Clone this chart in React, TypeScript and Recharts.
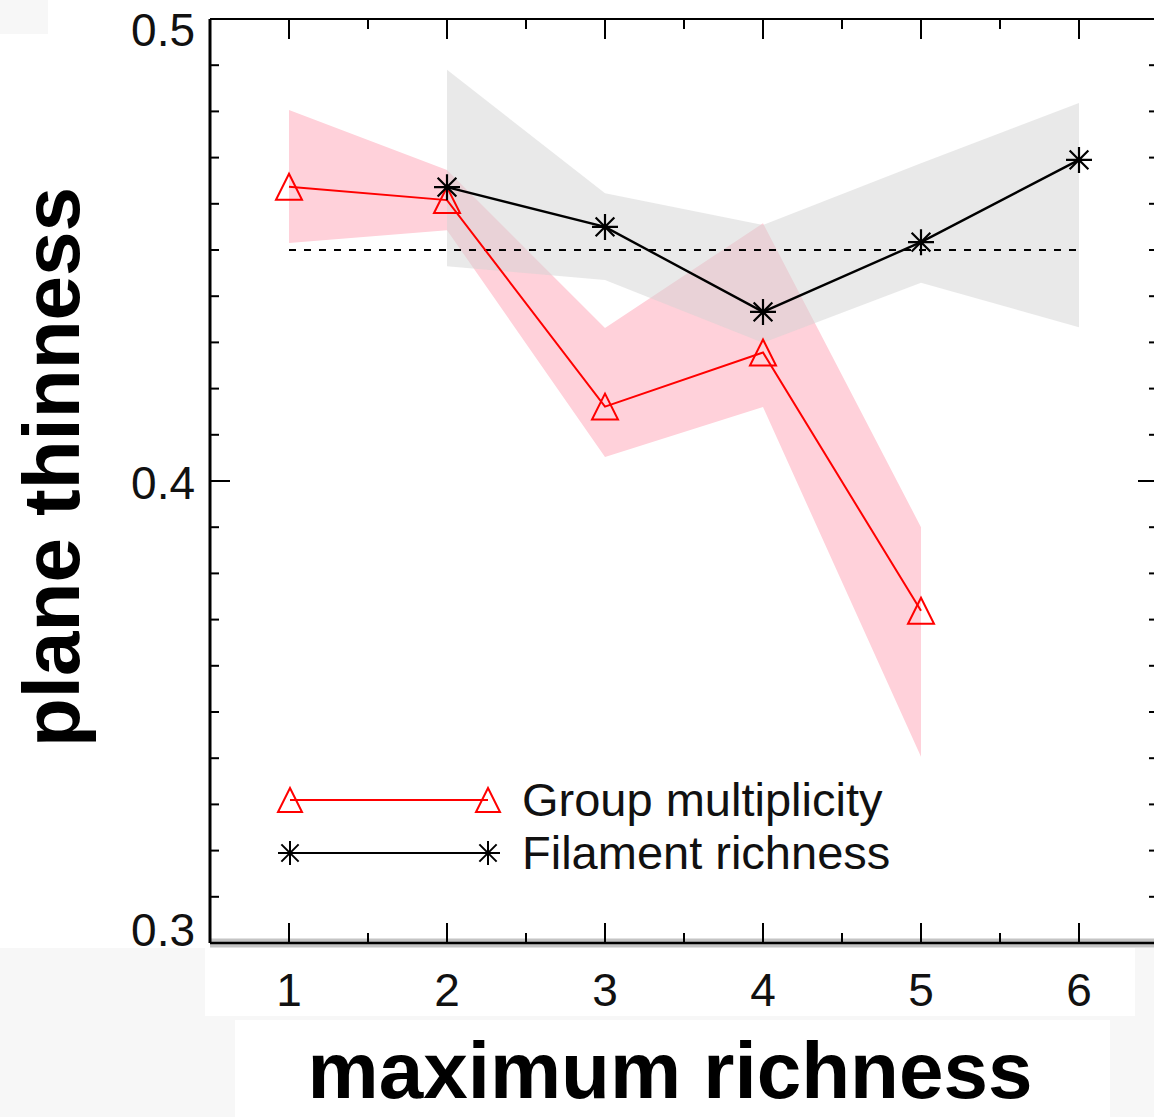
import React from 'react'
import {
  ComposedChart,
  Line,
  Area,
  XAxis,
  YAxis,
  ReferenceLine,
  Legend,
} from 'recharts'

// maximum richness on the x axis
const richness = [1, 2, 3, 4, 5, 6]

// plane thinness
const groupMultiplicity = [0.4637, 0.4608, 0.4161, 0.4278, 0.3719, null]
const groupLow = [0.4515, 0.4543, 0.4052, 0.416, 0.3403, null]
const groupHigh = [0.4803, 0.4673, 0.4331, 0.4558, 0.39, null]

const filamentRichness = [null, 0.4636, 0.455, 0.4366, 0.4517, 0.4695]
const filamentLow = [null, 0.4465, 0.4435, 0.4299, 0.4429, 0.4333]
const filamentHigh = [null, 0.489, 0.4623, 0.4554, 0.4688, 0.4818]

const referenceThinness = 0.45

const xDomain = [0.5, 6.5]
const yDomain = [0.3, 0.5]
const xMajorTicks = [1, 2, 3, 4, 5, 6]
const xAllTicks = [1, 1.5, 2, 2.5, 3, 3.5, 4, 4.5, 5, 5.5, 6]
const yMajorTicks = [0.3, 0.4, 0.5]
const yAllTicks = [
  0.3, 0.31, 0.32, 0.33, 0.34, 0.35, 0.36, 0.37, 0.38, 0.39, 0.4,
  0.41, 0.42, 0.43, 0.44, 0.45, 0.46, 0.47, 0.48, 0.49, 0.5,
]

const legendItems = [
  { name: 'Group multiplicity', color: '#ff0000', marker: 'triangle' },
  { name: 'Filament richness', color: '#000000', marker: 'star' },
]

const rows = richness.map((r, i) => ({
  richness: r,
  group: groupMultiplicity[i],
  groupBand: groupLow[i] == null ? null : [groupLow[i], groupHigh[i]],
  filament: filamentRichness[i],
  filamentBand: filamentLow[i] == null ? null : [filamentLow[i], filamentHigh[i]],
}))

const FONT = '"Liberation Sans", Arial, Helvetica, sans-serif'
const INK = '#111'

// chart box
const CHART_W = 1170
const CHART_H = 1117
const MARGIN = { top: 19, right: 12, bottom: 0, left: 0 }
const Y_AXIS_W = 210
const PLOT_TOP = MARGIN.top
const PLOT_RIGHT = CHART_W - MARGIN.right
const X_TICK_MARGIN = 30
const Y_TICK_MARGIN = 15

const isMajor = (v: number, majors: number[]) => majors.some((m) => Math.abs(m - v) < 1e-9)

const trianglePath = (cx: number, cy: number, s: number) =>
  `M${cx},${cy - s} L${cx + s},${cy + s} L${cx - s},${cy + s} Z`

const starPath = (cx: number, cy: number, s: number) => {
  const d = s * 0.72
  return `M${cx - s},${cy} H${cx + s} M${cx},${cy - s} V${cy + s} M${cx - d},${cy - d} L${cx + d},${cy + d} M${cx - d},${cy + d} L${cx + d},${cy - d}`
}

const TriangleDot = (props: any) => {
  const { cx, cy } = props
  if (cx == null || cy == null) return <g key={`t-${props.index}`} />
  return (
    <path
      key={`t-${props.index}`}
      d={trianglePath(cx, cy, 13)}
      fill="none"
      stroke="#ff0000"
      strokeWidth={2}
    />
  )
}

const StarDot = (props: any) => {
  const { cx, cy } = props
  if (cx == null || cy == null) return <g key={`s-${props.index}`} />
  return (
    <path
      key={`s-${props.index}`}
      d={starPath(cx, cy, 13)}
      fill="none"
      stroke="#000"
      strokeWidth={2.2}
    />
  )
}

// inward ticks on bottom and top, labels on majors only
const XTick = ({ x, y, payload }: any) => {
  const v = Number(payload.value)
  const major = isMajor(v, xMajorTicks)
  const len = major ? 20 : 10
  const tx = Number(x)
  const ty = Number(y)
  const axisY = ty - X_TICK_MARGIN
  return (
    <g>
      <line x1={tx} y1={axisY} x2={tx} y2={axisY - len} stroke="#000" strokeWidth={2} />
      <line x1={tx} y1={PLOT_TOP} x2={tx} y2={PLOT_TOP + len} stroke="#000" strokeWidth={2} />
      {major && (
        <text x={tx} y={ty} dy="0.71em" textAnchor="middle" fontSize={46} fontFamily={FONT} fill={INK}>
          {v}
        </text>
      )}
    </g>
  )
}

// 0.3 and 0.5 labels sit a little inside the frame in the original
const yLabelShift: Record<string, number> = { '0.3': -13, '0.4': 2, '0.5': 11 }

const YTick = ({ x, y, payload }: any) => {
  const v = Number(payload.value)
  const major = isMajor(v, yMajorTicks)
  const len = major ? 20 : 9
  const tx = Number(x)
  const ty = Number(y)
  const label = v.toFixed(1)
  return (
    <g>
      <line x1={PLOT_RIGHT} y1={ty} x2={PLOT_RIGHT - len} y2={ty} stroke="#000" strokeWidth={2} />
      {major && (
        <text
          x={tx}
          y={ty + (yLabelShift[label] ?? 0)}
          textAnchor="end"
          dominantBaseline="central"
          fontSize={46}
          fontFamily={FONT}
          fill={INK}
        >
          {label}
        </text>
      )}
    </g>
  )
}

// short inward tick at the left frame, drawn from a reference line's left end
const leftTick = (len: number) => (props: any) => {
  const x1 = Number(props.x1)
  const x2 = Number(props.x2)
  const y = Number(props.y1)
  const left = Math.min(x1, x2)
  return <line x1={left} y1={y} x2={left + len} y2={y} stroke="#000" strokeWidth={2} />
}

const renderLegend = () => (
  <div style={{ fontFamily: FONT, fontSize: 47, color: INK }}>
    {legendItems.map((it) => (
      <div key={it.name} style={{ display: 'flex', alignItems: 'center', height: 53 }}>
        <svg width={230} height={40} style={{ display: 'block' }}>
          <line x1={15} y1={20} x2={213} y2={20} stroke={it.color} strokeWidth={2} />
          {it.marker === 'triangle' ? (
            <>
              <path d={trianglePath(15, 20, 12)} fill="none" stroke={it.color} strokeWidth={2} />
              <path d={trianglePath(213, 20, 12)} fill="none" stroke={it.color} strokeWidth={2} />
            </>
          ) : (
            <>
              <path d={starPath(15, 20, 12)} fill="none" stroke={it.color} strokeWidth={2} />
              <path d={starPath(213, 20, 12)} fill="none" stroke={it.color} strokeWidth={2} />
            </>
          )}
        </svg>
        <span style={{ marginLeft: 17, lineHeight: '53px', whiteSpace: 'nowrap' }}>{it.name}</span>
      </div>
    ))}
  </div>
)

const greyPatch = '#f7f7f7'

export default function App() {
  return (
    <div
      style={{
        position: 'absolute',
        left: 0,
        top: 0,
        width: 1154,
        height: 1117,
        overflow: 'hidden',
        background: '#fff',
      }}
    >
      {/* faint scan patches around the figure */}
      <div style={{ position: 'absolute', left: 0, top: 0, width: 48, height: 34, background: greyPatch }} />
      <div style={{ position: 'absolute', left: 0, top: 948, width: 1154, height: 169, background: greyPatch }} />
      <div style={{ position: 'absolute', left: 205, top: 948, width: 930, height: 68, background: '#fff' }} />
      <div style={{ position: 'absolute', left: 235, top: 1020, width: 875, height: 97, background: '#fff' }} />

      <ComposedChart
        width={CHART_W}
        height={CHART_H}
        data={rows}
        margin={MARGIN}
        style={{ position: 'absolute', left: 0, top: 0 }}
      >
        <XAxis
          xAxisId="main"
          dataKey="richness"
          type="number"
          domain={xDomain}
          allowDataOverflow
          ticks={xAllTicks}
          interval={0}
          height={174}
          tickLine={false}
          tickSize={0}
          tickMargin={X_TICK_MARGIN}
          axisLine={false}
          tick={<XTick />}
          label={{
            content: () => (
              <text x={670} y={1098} textAnchor="middle" fontSize={80} fontWeight="bold"
                fontFamily={FONT} fill="#000">
                maximum richness
              </text>
            ),
          }}
        />
        <YAxis
          yAxisId="main"
          type="number"
          domain={yDomain}
          allowDataOverflow
          ticks={yAllTicks}
          interval={0}
          width={Y_AXIS_W}
          tickLine={false}
          tickSize={0}
          tickMargin={Y_TICK_MARGIN}
          axisLine={{ stroke: '#000', strokeWidth: 3 }}
          tick={<YTick />}
          label={{
            content: () => (
              <text x={79} y={467} transform="rotate(-90, 79, 467)" textAnchor="middle"
                fontSize={80} fontWeight="bold" fontFamily={FONT} fill="#000">
                plane thinness
              </text>
            ),
          }}
        />

        <Area
          xAxisId="main"
          yAxisId="main"
          dataKey="groupBand"
          type="linear"
          stroke="none"
          fill="#ffd1da"
          fillOpacity={1}
          connectNulls
          isAnimationActive={false}
          legendType="none"
        />
        <Area
          xAxisId="main"
          yAxisId="main"
          dataKey="filamentBand"
          type="linear"
          stroke="none"
          fill="#d4d4d4"
          fillOpacity={0.5}
          connectNulls
          isAnimationActive={false}
          legendType="none"
        />
        {/* frame: grey halo + black line at the bottom, thin line on top */}
        <ReferenceLine xAxisId="main" yAxisId="main" y={yDomain[0]} stroke="#c4c4c4" strokeWidth={9} />
        <ReferenceLine xAxisId="main" yAxisId="main" y={yDomain[0]} stroke="#000" strokeWidth={2.5} />
        <ReferenceLine xAxisId="main" yAxisId="main" y={yDomain[1]} stroke="#000" strokeWidth={2} />
        {/* left-frame ticks */}
        {yAllTicks.map((v) => (
          <ReferenceLine
            key={`lt-${v}`}
            xAxisId="main"
            yAxisId="main"
            y={v}
            shape={leftTick(isMajor(v, yMajorTicks) ? 20 : 9)}
          />
        ))}
        <ReferenceLine
          xAxisId="main"
          yAxisId="main"
          segment={[
            { x: richness[0], y: referenceThinness },
            { x: richness[richness.length - 1], y: referenceThinness },
          ]}
          stroke="#000"
          strokeWidth={2}
          strokeDasharray="7 8"
        />
        <Line
          xAxisId="main"
          yAxisId="main"
          dataKey="group"
          name="Group multiplicity"
          type="linear"
          stroke="#ff0000"
          strokeWidth={2}
          dot={TriangleDot}
          activeDot={false}
          isAnimationActive={false}
        />
        <Line
          xAxisId="main"
          yAxisId="main"
          dataKey="filament"
          name="Filament richness"
          type="linear"
          stroke="#000"
          strokeWidth={2.4}
          dot={StarDot}
          activeDot={false}
          isAnimationActive={false}
        />
        <Legend
          layout="vertical"
          align="center"
          verticalAlign="middle"
          content={renderLegend}
          wrapperStyle={{ left: 275, top: 773, width: 700, height: 106 }}
        />
      </ComposedChart>
    </div>
  )
}
